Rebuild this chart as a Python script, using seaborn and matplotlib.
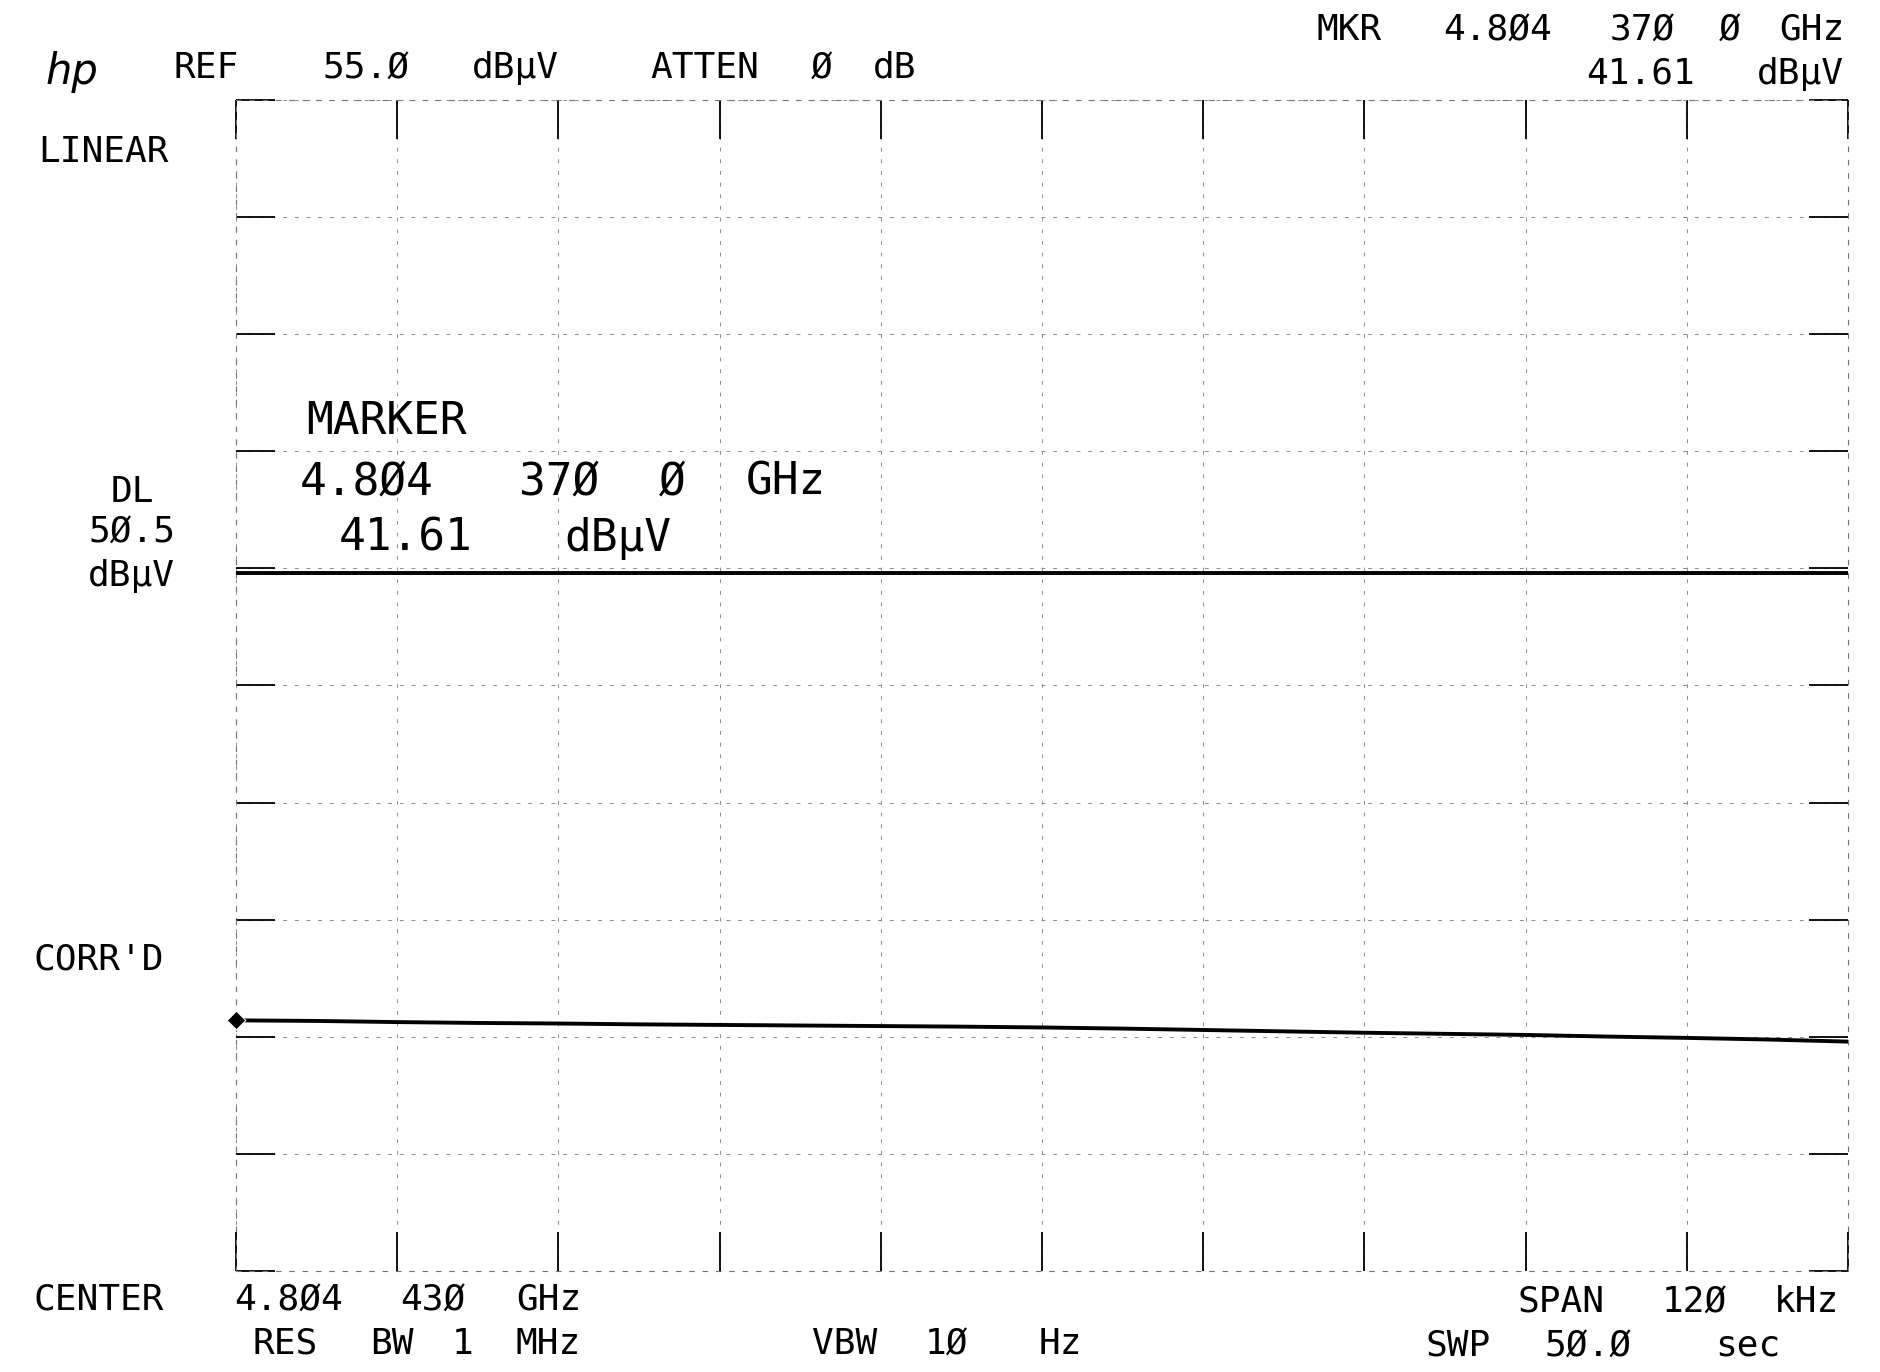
import numpy as np
import matplotlib
matplotlib.use("Agg")
import matplotlib.pyplot as plt
import seaborn as sns
import pandas as pd

W, H = 1881, 1372

# analyzer settings
center_ghz = 4.804430
span_khz = 120
ref_dbuv = 55.0
dl_dbuv = 50.5
mkr_dbuv = 41.61
n_div = 10

# trace, every half division across the sweep (kHz offset from center)
trace_khz = [-60, -54, -48, -42, -36, -30, -24, -18, -12, -6, 0,
             6, 12, 18, 24, 30, 36, 42, 48, 54, 60]
trace_dbuv = [41.61, 41.59, 41.55, 41.52, 41.50, 41.47, 41.45, 41.43, 41.41, 41.39, 41.36,
              41.32, 41.27, 41.22, 41.17, 41.13, 41.09, 41.03, 40.98, 40.92, 40.84]


def to_uv(db):
    return 10 ** (np.asarray(db, dtype=float) / 20.0)


df = pd.DataFrame({"khz": trace_khz, "uv": to_uv(trace_dbuv)})

sns.set_style("white")
plt.rcParams["font.family"] = ["DejaVu Sans Mono", "DejaVu Sans"]

fig = plt.figure(figsize=(W / 100, H / 100), dpi=100)
ax = fig.add_axes([236 / W, 1 - 1271 / H, (1848 - 236) / W, (1271 - 100) / H])

top_uv = float(to_uv(ref_dbuv))
ax.set_xlim(-span_khz / 2, span_khz / 2)
ax.set_ylim(0, top_uv)
ax.set_xticks(np.linspace(-span_khz / 2, span_khz / 2, n_div + 1))
ax.set_yticks(np.linspace(0, top_uv, n_div + 1))
ax.tick_params(direction="in", length=28, width=1.3, color="black",
               top=True, right=True, bottom=True, left=True,
               labelbottom=False, labelleft=False)
ax.grid(True, ls=(0, (4, 8)), lw=0.7, color="0.55")
for s in ax.spines.values():
    s.set_linestyle((0, (4, 8)))
    s.set_linewidth(0.8)
    s.set_color("0.45")

# display line
ax.axhline(float(to_uv(dl_dbuv)), color="black", lw=2.8, zorder=3)
# trace
sns.lineplot(data=df, x="khz", y="uv", ax=ax, color="black", lw=2.8, zorder=4)
# marker at sweep start
sns.scatterplot(x=[trace_khz[0]], y=[float(to_uv(mkr_dbuv))], ax=ax, marker="D",
                s=90, color="black", zorder=5, clip_on=False)
ax.set_xlabel("")
ax.set_ylabel("")

# annotation text, placed word by word like the plotter did
labels = [
    # (x center px, y center px, text, size)
    (206, 68, "REF", 26), (366, 68, "55.Ø", 26), (515, 68, "dBµV", 26),
    (705, 68, "ATTEN", 26), (822, 68, "Ø", 26), (895, 68, "dB", 26),
    (1349, 30, "MKR", 26), (1498, 30, "4.8Ø4", 26), (1642, 30, "37Ø", 26),
    (1730, 30, "Ø", 26), (1812, 30, "GHz", 26),
    (1641, 74, "41.61", 26), (1800, 74, "dBµV", 26),
    (104, 152, "LINEAR", 26),
    (386, 422, "MARKER", 32),
    (367, 482, "4.8Ø4", 32), (559, 482, "37Ø", 32), (672, 482, "Ø", 32), (786, 482, "GHz", 32),
    (406, 538, "41.61", 32), (618, 538, "dBµV", 32),
    (132, 492, "DL", 26), (132, 532, "5Ø.5", 26), (131, 576, "dBµV", 26),
    (99, 960, "CORR'D", 26),
    (99, 1300, "CENTER", 26), (289, 1300, "4.8Ø4", 26), (433, 1300, "43Ø", 26),
    (549, 1300, "GHz", 26),
    (285, 1344, "RES", 26), (392, 1344, "BW", 26), (463, 1344, "1", 26),
    (548, 1344, "MHz", 26),
    (845, 1344, "VBW", 26), (946, 1344, "1Ø", 26), (1060, 1344, "Hz", 26),
    (1561, 1302, "SPAN", 26), (1694, 1302, "12Ø", 26), (1807, 1302, "kHz", 26),
    (1458, 1346, "SWP", 26), (1588, 1346, "5Ø.Ø", 26), (1748, 1346, "sec", 26),
]
for x, y, t, sz in labels:
    fig.text(x / W, 1 - y / H, t, ha="center", va="center", fontsize=sz, color="black")

fig.text(72 / W, 1 - 72 / H, "hp", ha="center", va="center", fontsize=30,
         style="italic", family="DejaVu Sans", color="black")

fig.savefig("out.png", dpi=100, facecolor="white")
plt.close(fig)
